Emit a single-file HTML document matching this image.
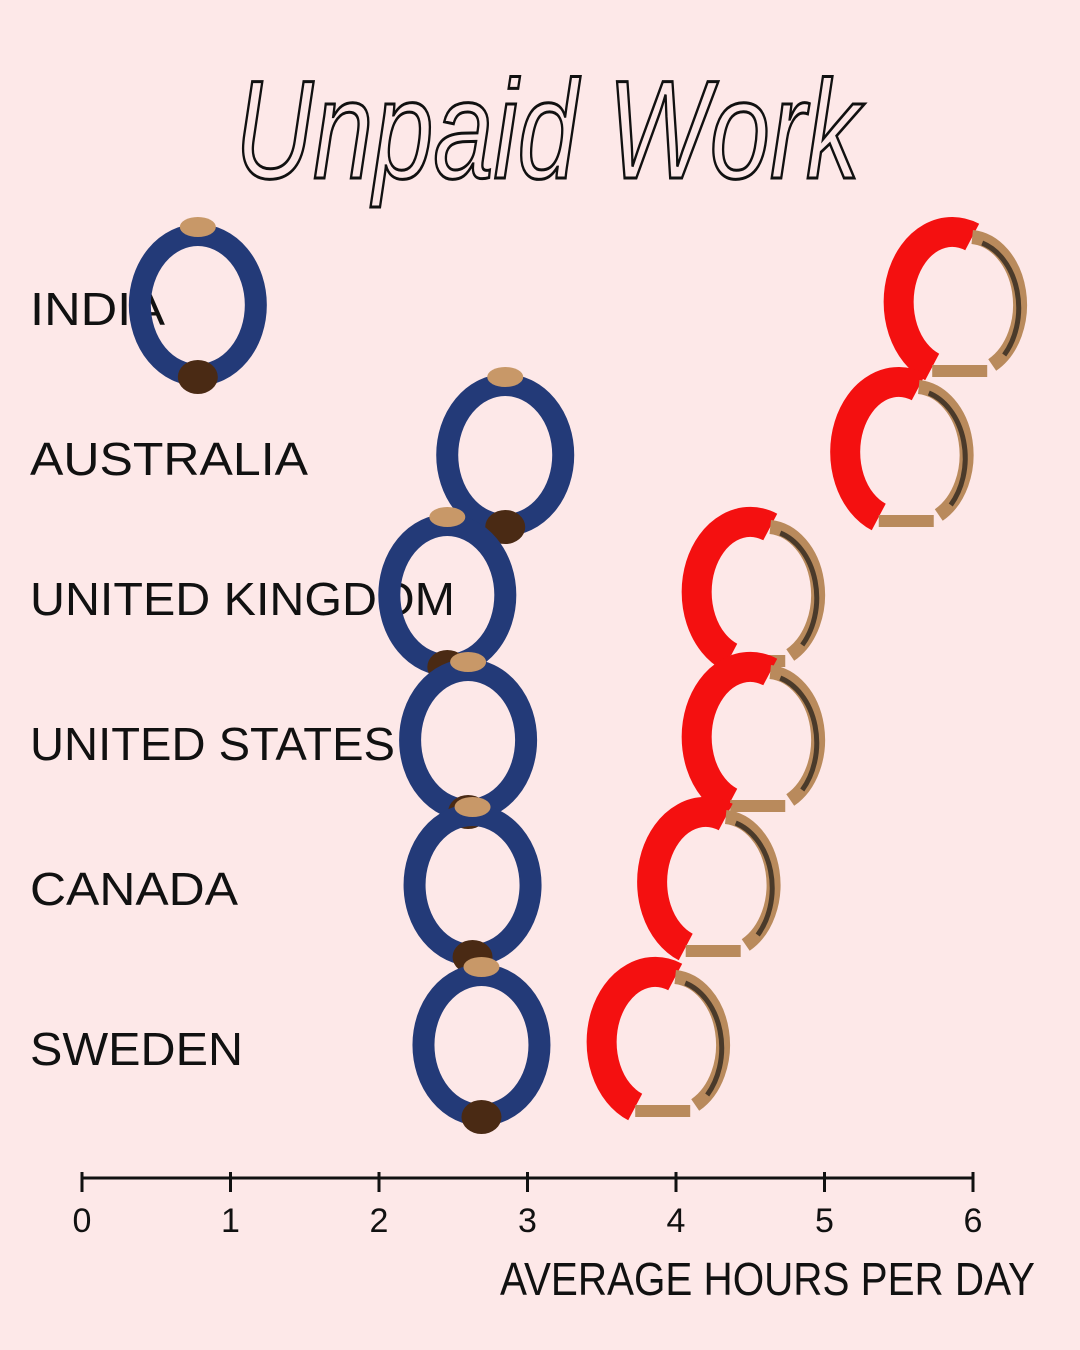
<!DOCTYPE html>
<html><head><meta charset="utf-8"><style>
html,body{margin:0;padding:0;background:#fde8e8;}
svg{display:block}
text{font-family:"Liberation Sans",sans-serif;fill:#111}
</style></head><body>
<svg id="chart" width="1080" height="1350" viewBox="0 0 1080 1350">
<rect width="1080" height="1350" fill="#fde8e8"/>
<text x="235" y="178" textLength="625" lengthAdjust="spacingAndGlyphs" font-size="140" font-style="italic" style="font-family:'Liberation Sans',sans-serif;fill:none;stroke:#111;stroke-width:3">Unpaid Work</text>
<g id="axis"></g>
<g id="labels"></g>
<g id="marks"></g>
<text x="500" y="1295" textLength="535" lengthAdjust="spacingAndGlyphs" font-size="46">AVERAGE HOURS PER DAY</text>
</svg>
<script>
const countries=["INDIA","AUSTRALIA","UNITED KINGDOM","UNITED STATES","CANADA","SWEDEN"];
const menHours=[0.78,2.85,2.46,2.6,2.63,2.69];
const womenHours=[5.86,5.5,4.5,4.5,4.2,3.86];
const ticks=[0,1,2,3,4,5,6];
const NS="http://www.w3.org/2000/svg";
const x=v=>82+v*148.5;
const rowY=i=>[305,455,595,740,885,1045][i];
const labelW=[135,278,425,365,208,213];
function el(t,a,p){const e=document.createElementNS(NS,t);for(const k in a)e.setAttribute(k,a[k]);p.appendChild(e);return e;}
const axis=document.getElementById('axis');
const l=el('line',{x1:x(0),x2:x(6),y1:1178,y2:1178,stroke:'#111','stroke-width':3},axis);


ticks.forEach(t=>{
 const tk=el('line',{x1:x(t),x2:x(t),y1:1172,y2:1192,stroke:'#111','stroke-width':3},axis);
 
 
 const tx=el('text',{x:x(t),y:1232,'text-anchor':'middle','font-size':34},axis);
 tx.textContent=t;
 
 
});
const labels=document.getElementById('labels');
const marks=document.getElementById('marks');
countries.forEach((c,i)=>{
 const y=rowY(i);
 const t=el('text',{x:30,y:y+20,'font-size':46,textLength:labelW[i],lengthAdjust:'spacingAndGlyphs'},labels);
 t.textContent=c;
 
 
 const mx=x(menHours[i]);
 const g=el('g',{},marks);
 
 
 el('ellipse',{cx:mx,cy:y,rx:58,ry:70,fill:'none',stroke:'#233a78','stroke-width':22},g);
 el('ellipse',{cx:mx,cy:y+72,rx:20,ry:17,fill:'#4a2a14'},g);
 el('ellipse',{cx:mx,cy:y-78,rx:18,ry:10,fill:'#c89868'},g);
 const wx=x(womenHours[i]);
 const w=el('g',{},marks);
 
 
 el('path',{d:`M${wx+20} ${y-68} A52 68 0 0 0 ${wx-20} ${y+62}`,fill:'none',stroke:'#f41010','stroke-width':30},w);
 el('path',{d:`M${wx+20} ${y-68} A52 68 0 0 1 ${wx+40} ${y+60}`,fill:'none',stroke:'#b98a5c','stroke-width':14},w);
 el('path',{d:`M${wx+30} ${y-62} A52 68 0 0 1 ${wx+52} ${y+50}`,fill:'none',stroke:'#4a3a2a','stroke-width':5},w);
 el('line',{x1:wx-20,y1:y+66,x2:wx+35,y2:y+66,stroke:'#b98a5c','stroke-width':12},w);
});
</script>
</body></html>
